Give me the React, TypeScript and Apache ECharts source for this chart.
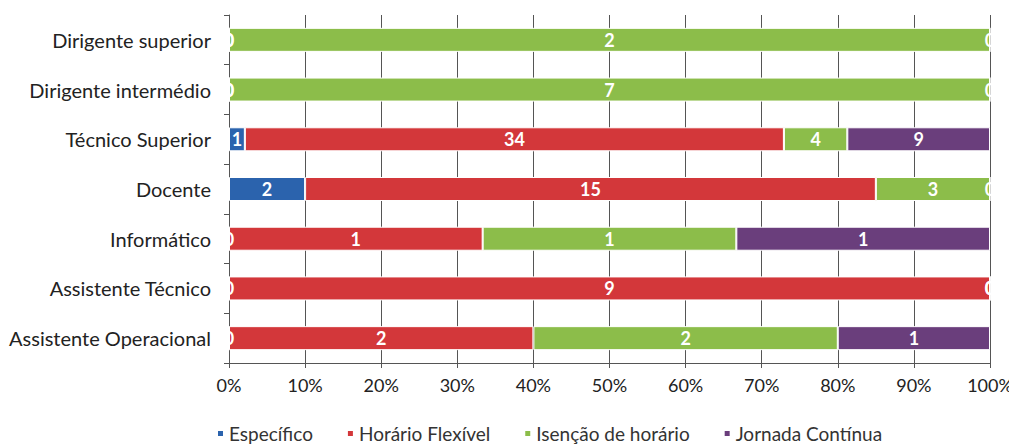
import React, { useEffect, useRef } from "react";
import * as echarts from "echarts";

const categories = [
  "Dirigente superior",
  "Dirigente intermédio",
  "Técnico Superior",
  "Docente",
  "Informático",
  "Assistente Técnico",
  "Assistente Operacional",
];
const seriesNames = ["Específico", "Horário Flexível", "Isenção de horário", "Jornada Contínua"];
const especifico = [0, 0, 1, 2, 0, 0, 0];
const horarioFlexivel = [0, 0, 34, 15, 1, 9, 2];
const isencaoHorario = [2, 7, 4, 3, 1, 0, 2];
const jornadaContinua = [0, 0, 9, 0, 1, 0, 1];
const xTicks = [0, 10, 20, 30, 40, 50, 60, 70, 80, 90, 100];
const colors = ["#2b63ad", "#d3373a", "#8cbd4a", "#6a3e7c"];

export default function App() {
  const ref = useRef<HTMLDivElement>(null);
  useEffect(() => {
    if (!ref.current) return;
    const chart = echarts.init(ref.current, null, { renderer: "svg" });
    const raw = [especifico, horarioFlexivel, isencaoHorario, jornadaContinua];
    const totals = categories.map((_, i) => raw.reduce((s, a) => s + a[i], 0));
    const font = "Lato, 'Open Sans', sans-serif";
    chart.setOption({
      animation: false,
      backgroundColor: "#ffffff",
      textStyle: { fontFamily: font },
      grid: { left: 229, right: 27, top: 15, bottom: 85, containLabel: false },
      legend: {
        bottom: 0,
        left: 211,
        icon: "rect",
        itemWidth: 7,
        itemHeight: 7,
        itemGap: 33,
        textStyle: { fontSize: 19, color: "#333", fontFamily: font },
        data: seriesNames,
      },
      xAxis: {
        type: "value",
        min: xTicks[0],
        max: xTicks[xTicks.length - 1],
        interval: 10,
        axisLine: { show: true, lineStyle: { color: "#555", width: 1 } },
        axisTick: { show: true, length: 5, lineStyle: { color: "#555" } },
        axisLabel: { formatter: "{value}%", fontSize: 18, color: "#222", margin: 13, fontFamily: font },
        splitLine: { show: true, lineStyle: { color: "#555", width: 1 } },
      },
      yAxis: {
        type: "category",
        data: categories,
        inverse: true,
        axisLine: { show: true, lineStyle: { color: "#555", width: 1 } },
        axisTick: { show: true, length: 5, lineStyle: { color: "#555" } },
        axisLabel: { fontSize: 20, color: "#222", margin: 18, fontFamily: font },
        splitLine: { show: false },
      },
      series: raw.map((arr, si) => ({
        name: seriesNames[si],
        type: "bar",
        stack: "total",
        barWidth: 24,
        itemStyle: { color: colors[si], borderColor: "#ffffff", borderWidth: 1 },
        label: {
          show: true,
          position: "inside",
          color: "#ffffff",
          fontWeight: "bold",
          fontSize: 18,
          fontFamily: font,
          formatter: (p: any) => String(arr[p.dataIndex]),
        },
        data: arr.map((v, i) => (totals[i] ? (v / totals[i]) * 100 : 0)),
      })),
    });
    return () => chart.dispose();
  }, []);
  return <div ref={ref} style={{ width: 1017, height: 448, marginLeft: -8, marginTop: -8 }} />;
}
